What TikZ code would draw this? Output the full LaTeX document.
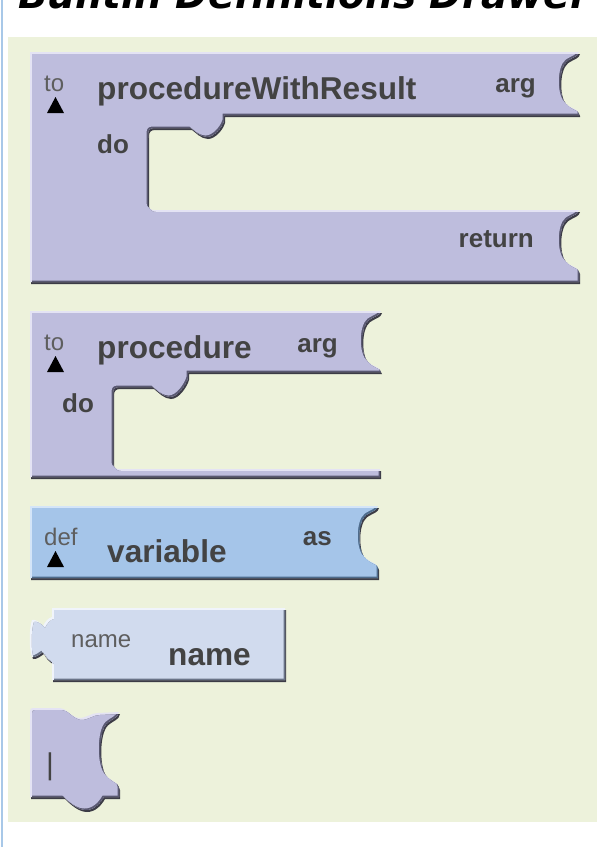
\documentclass[tikz,border=0pt]{standalone}
\usepackage{fontspec}
\setmainfont{Liberation Sans}
\newfontfamily\headfont{DejaVu Sans}

\definecolor{panelbg}{HTML}{EDF2DB}
\definecolor{sidebar}{HTML}{A8C8E8}
\definecolor{procmain}{HTML}{BEBDDD}
\definecolor{proclight}{HTML}{E4E3F4}
\definecolor{procdark}{HTML}{5A5972}
\definecolor{varmain}{HTML}{A5C5E9}
\definecolor{varlight}{HTML}{D4E5F8}
\definecolor{vardark}{HTML}{4E6C8C}
\definecolor{namemain}{HTML}{D1DBEE}
\definecolor{namelight}{HTML}{F0F4FB}
\definecolor{namedark}{HTML}{6A7488}
\definecolor{dropshade}{HTML}{3C3C46}
\definecolor{labgray}{HTML}{434343}
\definecolor{smallgray}{HTML}{5E5E5E}

% right-hand socket, from (R,T) down to (R,T+H)
\newcommand\sock[3]{%
  .. controls ({#1-1},{#2+0.08*#3}) and ({#1-6},{#2+0.08*#3}) .. ({#1-12},{#2+0.15*#3})
  .. controls ({#1-21},{#2+0.26*#3}) and ({#1-21},{#2+0.74*#3}) .. ({#1-12},{#2+0.85*#3})
  .. controls ({#1-6},{#2+0.92*#3}) and ({#1-1},{#2+0.92*#3}) .. (#1,{#2+#3})}

% outlines of the five blocks (pixel coordinates, y downwards)
\newcommand\outlineResult{(30,52) -- (579,52) \sock{579}{52}{62} -- (579,115)
  -- (224,115) -- (224,121) .. controls (222,128) and (214,137) .. (207,137)
  .. controls (200,137) and (194,130) .. (191,128) -- (154,128)
  .. controls (150,128) and (148,130) .. (148,134) -- (148,204)
  .. controls (148,208) and (150,210) .. (154,210) -- (579,210)
  \sock{579}{210}{62} -- (579,282) -- (30,282) -- cycle}
\newcommand\outlineProc{(30,311) -- (381,311) \sock{381}{311}{61} -- (381,372)
  -- (188,372) -- (188,378) .. controls (186,385) and (178,397) .. (170,397)
  .. controls (163,397) and (157,390) .. (153,387) -- (119,387)
  .. controls (115,387) and (113,389) .. (113,393) -- (113,463)
  .. controls (113,467) and (115,469) .. (119,469) -- (380,469) -- (380,477)
  -- (30,477) -- cycle}
\newcommand\outlineVar{(30,506) -- (378,506) \sock{378}{506}{62} -- (378,578)
  -- (30,578) -- cycle}
\newcommand\outlineName{(52,608) -- (285,608) -- (285,680) -- (52,680) -- (52,662)
  .. controls (48,660) and (45,656) .. (43,652)
  .. controls (40,654) and (35,658) .. (32,657)
  .. controls (29,650) and (29,628) .. (32,620)
  .. controls (35,619) and (40,622) .. (43,626)
  .. controls (45,622) and (48,618) .. (52,617)
  -- cycle}
\newcommand\outlineBar{(30,711) .. controls (30,709) and (31,708) .. (33,708) -- (60,708)
  .. controls (66,708) and (71,717) .. (79,718) .. controls (87,718) and (91,713) .. (98,713)
  -- (119,712) \sock{119}{712}{76} -- (119,797) -- (104,797)
  .. controls (100,804) and (94,810) .. (86,810) .. controls (78,810) and (70,803) .. (64,797)
  -- (30,797) -- cycle}

% bevelled block: drop shade, light top/left rim, dark bottom/right rim
\newcommand\bevelblock[4]{%
  \begin{scope}[shift={(1,2)}] \fill[dropshade] #1; \end{scope}
  \begin{scope}
    \clip #1;
    \fill[#3] #1;
    \begin{scope}[shift={(2,2)}] \fill[#4] #1; \end{scope}
    \begin{scope}[shift={(2,2)}]
      \clip #1;
      \begin{scope}[shift={(-3.5,-3.5)}] \fill[#2] #1; \end{scope}
    \end{scope}
  \end{scope}}

\tikzset{
  biglabel/.style={inner sep=0pt, text=labgray, font=\fontsize{31.6}{31.6}\selectfont\bfseries},
  keylabel/.style={inner sep=0pt, text=labgray, font=\fontsize{26}{26}\selectfont\bfseries},
  smalllabel/.style={inner sep=0pt, text=smallgray, font=\fontsize{24}{24}\selectfont},
  pointer/.style={fill=black}
}

\begin{document}
\begin{tikzpicture}[x=1pt,y=-1pt]
\useasboundingbox (0,0) rectangle (604,847);
\fill[white] (0,0) rectangle (604,847);
\fill[sidebar] (1,0) rectangle (3,847);
\fill[panelbg] (8,37) rectangle (597,822);

% heading, partly cut off by the top edge
\node[anchor=base west, inner sep=0pt, font=\headfont\bfseries\itshape\fontsize{39}{39}\selectfont]
  (heading) at (18,8) {Builtin Definitions Drawer};

% blocks
\bevelblock{\outlineResult}{procmain}{proclight}{procdark}
\bevelblock{\outlineProc}{procmain}{proclight}{procdark}
\bevelblock{\outlineVar}{varmain}{varlight}{vardark}
\bevelblock{\outlineName}{namemain}{namelight}{namedark}
\bevelblock{\outlineBar}{procmain}{proclight}{procdark}

% procedureWithResult block
\node[smalllabel, anchor=base west] (toA) at (44,91) {to};
\fill[pointer] (47,113) -- (64,113) -- (55.5,97) -- cycle;
\node[biglabel, anchor=base west] (nameA) at (97,99) {procedureWithResult};
\node[keylabel, anchor=base east] (argA) at (536,92) {arg};
\node[keylabel, anchor=base west] (doA) at (97,153) {do};
\node[keylabel, anchor=base east] (retA) at (534,247) {return};

% procedure block
\node[smalllabel, anchor=base west] (toB) at (44,350) {to};
\fill[pointer] (47,372) -- (64,372) -- (55.5,356) -- cycle;
\node[biglabel, anchor=base west] (nameB) at (97,358) {procedure};
\node[keylabel, anchor=base east] (argB) at (338,352) {arg};
\node[keylabel, anchor=base west] (doB) at (62,412) {do};

% variable block
\node[smalllabel, anchor=base west] (defC) at (44,545) {def};
\fill[pointer] (47,567) -- (64,567) -- (55.5,551) -- cycle;
\node[biglabel, anchor=base west] (nameC) at (107,562) {variable};
\node[keylabel, anchor=base east] (asC) at (332,545) {as};

% name block
\node[smalllabel, anchor=base west] (kindD) at (71,647) {name};
\node[biglabel, anchor=base west] (nameD) at (168,665) {name};

% bar block
\node[inner sep=0pt, text=labgray, font=\fontsize{30}{30}\selectfont] (barE) at (50,767) {|};
\end{tikzpicture}
\end{document}
